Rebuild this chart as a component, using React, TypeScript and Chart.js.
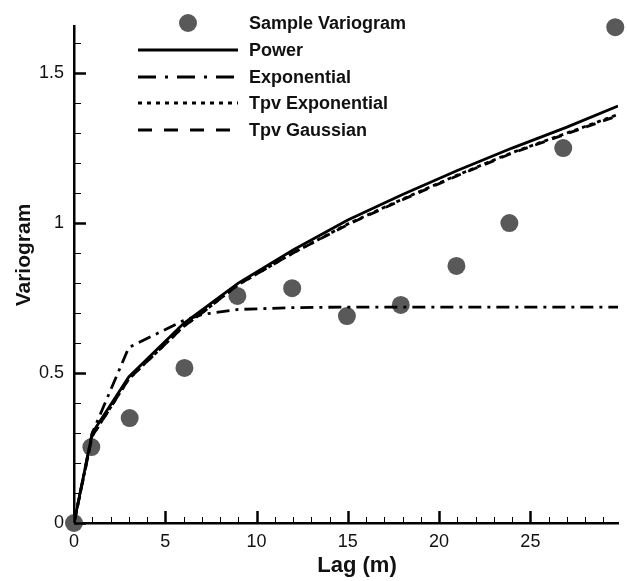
import React, { useEffect, useRef } from "react";
import { Chart, registerables } from "chart.js";

Chart.register(...registerables);

// ---- data ----
const sampleLags = [0, 0.95, 3.05, 6.05, 8.95, 11.95, 14.95, 17.9, 20.95, 23.85, 26.8, 29.65];
const sampleValues = [0, 0.253, 0.35, 0.517, 0.757, 0.783, 0.69, 0.727, 0.857, 1.0, 1.25, 1.653];

const modelLags = [0, 1, 3, 6, 7, 9, 12, 15, 18, 21, 24, 27, 29.8];
const powerValues = [0, 0.3, 0.487, 0.665, 0.71, 0.8, 0.91, 1.01, 1.095, 1.175, 1.25, 1.32, 1.39];
const exponentialValues = [0, 0.3, 0.585, 0.675, 0.695, 0.712, 0.718, 0.72, 0.72, 0.72, 0.72, 0.72, 0.72];
const tpvExponentialValues = [0, 0.29, 0.48, 0.655, 0.7, 0.795, 0.9, 0.997, 1.08, 1.16, 1.235, 1.3, 1.362];
const tpvGaussianValues = [0, 0.29, 0.48, 0.655, 0.7, 0.795, 0.9, 0.995, 1.078, 1.158, 1.233, 1.298, 1.358];

const xTicks = [0, 5, 10, 15, 20, 25];
const yTicks = [0, 0.5, 1, 1.5];
const seriesNames = ["Sample Variogram", "Power", "Exponential", "Tpv Exponential", "Tpv Gaussian"];
const xTitle = "Lag (m)";
const yTitle = "Variogram";

const X_MIN = 0, X_MAX = 29.8, Y_MIN = 0, Y_MAX = 1.657;
const FONT = "'Liberation Sans', Arial, Helvetica, sans-serif";
const POINT_COLOR = "#595959";

const toXY = (xs: number[], ys: number[]) => xs.map((x, i) => ({ x, y: ys[i] }));

const dashes: number[][] = [[], [], [13, 6, 3, 6], [4, 4], [10, 8]];
const legendDashes: number[][] = [[], [], [18, 9, 3, 9], [4, 5], [14, 12]];

const decorPlugin = {
  id: "decor",
  afterDraw(chart: any) {
    const ctx = chart.ctx;
    const xs = chart.scales.x;
    const ys = chart.scales.y;
    const area = chart.chartArea;
    ctx.save();
    ctx.strokeStyle = "#000";
    // y ticks (inside)
    for (let i = 0; i <= 16; i++) {
      const v = i / 10;
      const major = i % 5 === 0;
      const py = Math.round(ys.getPixelForValue(v)) + 0.5;
      ctx.lineWidth = major ? 2.5 : 1;
      ctx.beginPath();
      ctx.moveTo(area.left, py);
      ctx.lineTo(area.left + (major ? 12 : 7), py);
      ctx.stroke();
    }
    // x ticks (inside)
    for (let i = 0; i <= 29; i++) {
      const major = i % 5 === 0;
      const px = Math.round(xs.getPixelForValue(i)) + 0.5;
      ctx.lineWidth = major ? 2.5 : 1;
      ctx.beginPath();
      ctx.moveTo(px, area.bottom);
      ctx.lineTo(px, area.bottom - (major ? 12 : 6));
      ctx.stroke();
    }
    // axis titles
    ctx.fillStyle = "#111";
    ctx.font = `bold 22px ${FONT}`;
    ctx.textAlign = "center";
    ctx.textBaseline = "alphabetic";
    ctx.fillText(xTitle, 357, 572);
    ctx.save();
    ctx.translate(30, 255);
    ctx.rotate(-Math.PI / 2);
    ctx.font = `bold 21px ${FONT}`;
    ctx.fillText(yTitle, 0, 0);
    ctx.restore();

    // legend
    const rowY = [23, 50, 77, 103, 130];
    ctx.font = `bold 18px ${FONT}`;
    ctx.textAlign = "left";
    ctx.textBaseline = "middle";
    seriesNames.forEach((name, i) => {
      const y = rowY[i];
      if (i === 0) {
        ctx.fillStyle = POINT_COLOR;
        ctx.beginPath();
        ctx.arc(188, y, 9, 0, Math.PI * 2);
        ctx.fill();
      } else {
        ctx.strokeStyle = "#000";
        ctx.lineWidth = 3;
        ctx.setLineDash(legendDashes[i]);
        ctx.beginPath();
        ctx.moveTo(138, y);
        ctx.lineTo(238, y);
        ctx.stroke();
        ctx.setLineDash([]);
      }
      ctx.fillStyle = "#111";
      ctx.fillText(name, 249, y + 1);
    });
    ctx.restore();
  },
};

export default function App() {
  const ref = useRef<HTMLCanvasElement | null>(null);
  useEffect(() => {
    if (!ref.current) return;
    const lineDs = (i: number, vals: number[]) => ({
      label: seriesNames[i],
      data: toXY(modelLags, vals),
      showLine: true,
      borderColor: "#000",
      borderWidth: 2.8,
      borderDash: dashes[i],
      pointRadius: 0,
      tension: 0,
      fill: false,
      order: i,
    });
    const chart = new Chart(ref.current, {
      type: "scatter",
      data: {
        datasets: [
          {
            label: seriesNames[0],
            data: toXY(sampleLags, sampleValues),
            showLine: false,
            pointRadius: 9,
            pointBackgroundColor: POINT_COLOR,
            pointBorderWidth: 0,
            borderColor: POINT_COLOR,
            order: 10,
            clip: false,
          } as any,
          lineDs(1, powerValues),
          lineDs(2, exponentialValues),
          lineDs(3, tpvExponentialValues),
          lineDs(4, tpvGaussianValues),
        ],
      },
      options: {
        responsive: false,
        animation: false,
        devicePixelRatio: 1,
        layout: { padding: { left: 0, top: 26, right: 7, bottom: 0 } },
        plugins: { legend: { display: false }, tooltip: { enabled: false } },
        scales: {
          x: {
            type: "linear",
            min: X_MIN,
            max: X_MAX,
            grid: { display: false, drawTicks: false },
            border: { display: true, color: "#000", width: 2.5 },
            afterBuildTicks: (s: any) => { s.ticks = xTicks.map((v) => ({ value: v })); },
            afterFit: (s: any) => { s.height = 58; },
            ticks: { color: "#111", padding: 8, maxRotation: 0, font: { family: FONT, size: 18 }, callback: (v: any) => String(v) },
          },
          y: {
            type: "linear",
            min: Y_MIN,
            max: Y_MAX,
            grid: { display: false, drawTicks: false },
            border: { display: true, color: "#000", width: 2.5 },
            afterBuildTicks: (s: any) => { s.ticks = yTicks.map((v) => ({ value: v })); },
            afterFit: (s: any) => { s.width = 74; },
            ticks: { color: "#111", padding: 10, font: { family: FONT, size: 18 }, callback: (v: any) => String(v) },
          },
        },
      },
      plugins: [decorPlugin],
    });
    return () => chart.destroy();
  }, []);
  return (
    <div style={{ position: "fixed", left: 0, top: 0, width: 627, height: 581, background: "#fff" }}>
      <canvas ref={ref} width={627} height={581} style={{ display: "block" }} />
    </div>
  );
}
